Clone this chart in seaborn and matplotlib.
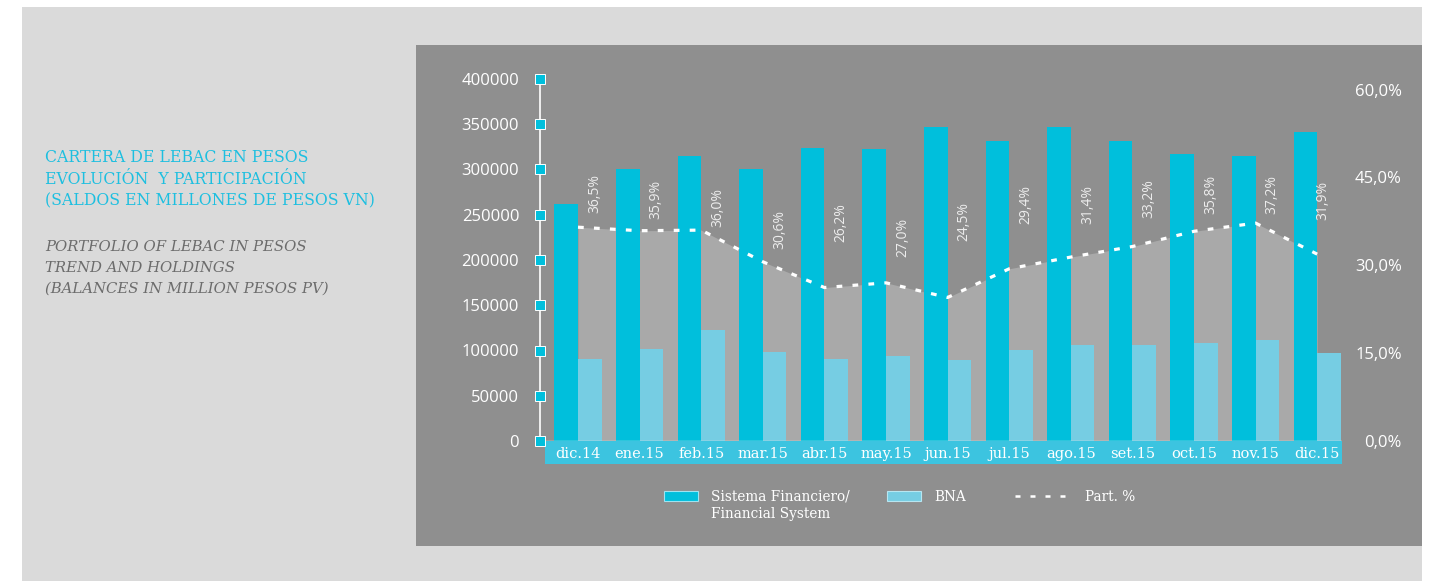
import numpy as np
import pandas as pd
import matplotlib
matplotlib.use("Agg")
import matplotlib.pyplot as plt
from matplotlib.patches import Rectangle, Patch
from matplotlib.lines import Line2D
import seaborn as sns

# ---------------- data ----------------
months = ["dic.14", "ene.15", "feb.15", "mar.15", "abr.15", "may.15", "jun.15",
          "jul.15", "ago.15", "set.15", "oct.15", "nov.15", "dic.15"]
sistema_financiero = [262000, 300000, 315000, 300000, 324000, 323000, 347000,
                      331000, 347000, 332000, 317000, 315000, 341000]
bna = [90500, 101500, 122500, 98000, 90500, 94000, 90000,
       100500, 106000, 106000, 108500, 111500, 97500]
part_pct = [36.5, 35.9, 36.0, 30.6, 26.2, 27.0, 24.5, 29.4, 31.4, 33.2, 35.8, 37.2, 31.9]
part_labels = ["36,5%", "35,9%", "36,0%", "30,6%", "26,2%", "27,0%", "24,5%",
               "29,4%", "31,4%", "33,2%", "35,8%", "37,2%", "31,9%"]
left_ticks = [0, 50000, 100000, 150000, 200000, 250000, 300000, 350000, 400000]
left_ticklabels = ["0", "50000", "100000", "150000", "200000", "250000",
                   "300000", "350000", "400000"]
right_ticks = [0, 15, 30, 45, 60]
right_ticklabels = ["0,0%", "15,0%", "30,0%", "45,0%", "60,0%"]
series_names = ["Sistema Financiero/\nFinancial System", "BNA"]
line_name = "Part. %"

# label placement (percentage-axis units) for the rotated value labels
label_y = [42.3, 41.3, 39.9, 36.1, 37.3, 34.8, 37.5, 40.4, 40.4, 41.4, 42.1, 42.1, 41.1]
label_dx = [0.27] * 12 + [0.09]

# ---------------- style ----------------
C_DARK = "#00bfdc"
C_LIGHT = "#76cde3"
C_STRIP = "#3cc4e0"
C_PANEL = "#8f8f8f"
C_AREA = "#a9a9a9"
C_BG = "#dadada"
C_TITLE = "#1dbfe0"
C_SUB = "#6c6c6c"

W, H = 1437, 581
fig = plt.figure(figsize=(W / 100, H / 100), dpi=100)
fig.patch.set_facecolor("white")
fig.add_artist(Rectangle((22 / W, 0), 1400 / W, (H - 7) / H, transform=fig.transFigure,
                         fc=C_BG, ec="none", zorder=-20))
fig.add_artist(Rectangle((416 / W, (H - 546) / H), (1422 - 416) / W, (546 - 45) / H,
                         transform=fig.transFigure, fc=C_PANEL, ec="none", zorder=-10))

# axes box in pixels
ax_l, ax_r, ax_t, ax_b = 540, 1342, 79, 441
ax_bar = fig.add_axes([ax_l / W, (H - ax_b) / H, (ax_r - ax_l) / W, (ax_b - ax_t) / H])
ax_area = ax_bar.twinx()
ax_line = ax_bar.twinx()
ax_area.set_zorder(1)
ax_bar.set_zorder(2)
ax_line.set_zorder(3)
for a in (ax_bar, ax_area, ax_line):
    a.patch.set_visible(False)
    for s in a.spines.values():
        s.set_visible(False)

n = len(months)
x = np.arange(n)
PCT_TOP = 61.8

# area behind bars
ax_area.fill_between(x, 0, part_pct, color=C_AREA, lw=0)
ax_area.set_ylim(0, PCT_TOP)
ax_area.set_yticks([])

# bars
df = pd.DataFrame({
    "mes": months * 2,
    "serie": [series_names[0]] * n + [series_names[1]] * n,
    "valor": sistema_financiero + bna,
})
sns.barplot(data=df, x="mes", y="valor", hue="serie", order=months,
            hue_order=series_names, palette=[C_DARK, C_LIGHT], width=0.763,
            saturation=1, errorbar=None, legend=False, linewidth=0, ax=ax_bar)
ax_bar.set_ylim(0, 400000)
ax_bar.set_xlim((ax_l - 578) / 61.6, (ax_r - 578) / 61.6)
ax_bar.set_xlabel("")
ax_bar.set_ylabel("")
ax_bar.axhline(0, color="#e4e4e4", lw=1.0, zorder=3)

# left axis
ax_bar.spines["left"].set_visible(True)
ax_bar.spines["left"].set_color("white")
ax_bar.spines["left"].set_linewidth(1.2)
ax_bar.set_yticks(left_ticks, left_ticklabels)
ax_bar.tick_params(axis="y", length=0, pad=15, colors="white", labelsize=12)
for t in ax_bar.get_yticklabels():
    t.set_fontfamily("Open Sans")
ax_bar.plot([0] * len(left_ticks), left_ticks, transform=ax_bar.get_yaxis_transform(),
            ls="none", marker="s", ms=7, mfc=C_DARK, mec="white", mew=0.7,
            clip_on=False, zorder=6)

# x tick strip
ax_bar.add_patch(Rectangle((5 / (ax_r - ax_l), -23 / (ax_b - ax_t)), 1 - 5 / (ax_r - ax_l),
                           23 / (ax_b - ax_t), transform=ax_bar.transAxes, clip_on=False,
                           fc=C_STRIP, ec="none", zorder=0.5))
ax_bar.tick_params(axis="x", length=0, pad=4, colors="white", labelsize=10.5)
for t in ax_bar.get_xticklabels():
    t.set_fontfamily("DejaVu Serif")

# dotted participation line
sns.lineplot(x=x, y=part_pct, ax=ax_line, color="white", linewidth=2.3, legend=False)
for ln in ax_line.lines:
    ln.set_linestyle((0, (1.8, 3.2)))
    ln.set_dash_capstyle("butt")
ax_line.set_ylim(0, PCT_TOP)
ax_line.set_yticks(right_ticks, right_ticklabels)
ax_line.tick_params(axis="y", length=0, pad=43, colors="white", labelsize=12)
for t in ax_line.get_yticklabels():
    t.set_fontfamily("Open Sans")
    t.set_horizontalalignment("right")
for i in range(n):
    ax_line.text(x[i] + label_dx[i], label_y[i], part_labels[i], rotation=90,
                 ha="center", va="center", color="#ededed", fontsize=10,
                 family="Open Sans")

# ---------------- left titles ----------------
title_lines = ["CARTERA DE LEBAC EN PESOS", "EVOLUCIÓN  Y PARTICIPACIÓN",
               "(SALDOS EN MILLONES DE PESOS VN)"]
sub_lines = ["PORTFOLIO OF LEBAC IN PESOS", "TREND AND HOLDINGS",
             "(BALANCES IN MILLION PESOS PV)"]
for k, s in enumerate(title_lines):
    fig.text(45 / W, (H - (162 + 21.5 * k)) / H, s, color=C_TITLE, fontsize=11.3,
             family="DejaVu Serif", va="baseline", ha="left")
for k, s in enumerate(sub_lines):
    fig.text(45 / W, (H - (251 + 21 * k)) / H, s, color=C_SUB, fontsize=10.7,
             family="DejaVu Serif", style="italic", va="baseline", ha="left")

# ---------------- legend ----------------
first_line, second_line = series_names[0].split("\n")
prop = {"family": "DejaVu Serif", "size": 9.8}
common = dict(frameon=False, borderpad=0, borderaxespad=0, handlelength=2.5,
              handleheight=0.8, handletextpad=0.95, labelcolor="white", prop=prop,
              loc="upper left")
fig.legend(handles=[Patch(fc=C_DARK, ec="#9fe3f0", lw=0.8)], labels=[first_line],
           bbox_to_anchor=(664 / W, (H - 490) / H), **common)
fig.text(711 / W, (H - 518) / H, second_line, color="white", family="DejaVu Serif",
         fontsize=9.8, va="baseline", ha="left")
fig.legend(handles=[Patch(fc=C_LIGHT, ec="#b7e6f1", lw=0.8)], labels=[series_names[1]],
           bbox_to_anchor=(887 / W, (H - 490) / H), **common)
fig.legend(handles=[Line2D([], [], color="white", lw=1.8, ls=(0, (2, 4)))],
           labels=[line_name], bbox_to_anchor=(1015 / W, (H - 490) / H),
           **{**common, "handlelength": 4.2})

fig.savefig("out.png", dpi=100, facecolor=fig.get_facecolor())
